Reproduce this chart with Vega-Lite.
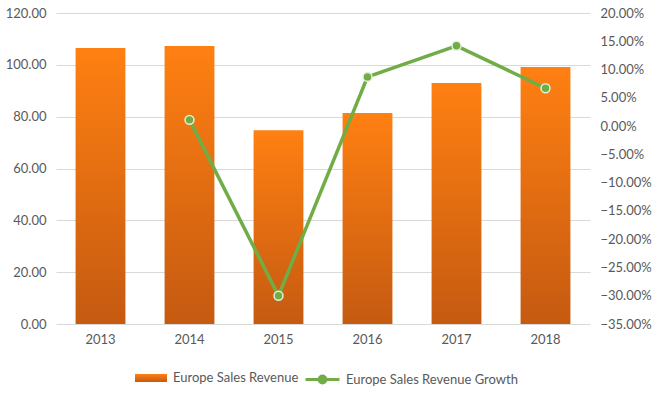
{
  "$schema": "https://vega.github.io/schema/vega-lite/v6.json",
  "width": 534,
  "height": 311,
  "autosize": {"type": "none"},
  "padding": {"left": 56, "top": 13, "right": 66, "bottom": 71},
  "background": "white",
  "config": {
    "view": {"stroke": null},
    "font": "Lato",
    "axis": {"labelColor": "#595959", "labelFontSize": 13, "domain": false, "ticks": false, "title": null, "labelFont": "Lato"},
    "legend": {"labelColor": "#595959", "labelFontSize": 13, "labelFont": "Lato", "title": null, "labelLimit": 400, "padding": 0}
  },
  "data": {
    "values": [
      {"year": "2013", "revenue": 106.5, "growth": null},
      {"year": "2014", "revenue": 107.3, "growth": 0.011},
      {"year": "2015", "revenue": 74.8, "growth": -0.300},
      {"year": "2016", "revenue": 81.4, "growth": 0.087},
      {"year": "2017", "revenue": 93.0, "growth": 0.142},
      {"year": "2018", "revenue": 99.2, "growth": 0.067}
    ]
  },
  "encoding": {
    "x": {
      "field": "year",
      "type": "ordinal",
      "scale": {"paddingInner": 0.44, "paddingOuter": 0.22},
      "axis": {"labelAngle": 0, "labelPadding": 9}
    }
  },
  "layer": [
    {
      "mark": {"type": "bar", "color": {"gradient": "linear", "x1": 0, "y1": 0, "x2": 0, "y2": 1, "stops": [{"offset": 0, "color": "#FF8012"}, {"offset": 1, "color": "#C55A11"}]}},
      "encoding": {
        "y": {
          "field": "revenue",
          "type": "quantitative",
          "scale": {"domain": [0, 120]},
          "axis": {"values": [0, 20, 40, 60, 80, 100, 120], "format": ".2f", "grid": true, "gridColor": "#D9D9D9", "labelPadding": 10}
        },
        "opacity": {
          "datum": "Europe Sales Revenue",
          "type": "ordinal",
          "scale": {"range": [1, 1]},
          "legend": {
            "orient": "none",
            "legendX": 78,
            "legendY": 348,
            "symbolType": "M-1,-0.25H1V0.25H-1Z",
            "symbolSize": 1024,
            "labelOffset": 5,
            "encode": {"symbols": {"update": {"fill": {"value": "#E8700F"}, "stroke": {"value": "transparent"}, "opacity": {"value": 1}}}}
          }
        }
      }
    },
    {
      "encoding": {
        "y": {
          "field": "growth",
          "type": "quantitative",
          "scale": {"domain": [-0.35, 0.2]},
          "axis": {"orient": "right", "values": [-0.35, -0.3, -0.25, -0.2, -0.15, -0.1, -0.05, 0, 0.05, 0.1, 0.15, 0.2], "format": ".2%", "grid": false, "labelPadding": 10}
        }
      },
      "layer": [
        {
          "mark": {"type": "line", "strokeWidth": 3.5},
          "encoding": {
            "stroke": {
              "datum": "Europe Sales Revenue Growth",
              "type": "nominal",
              "scale": {"range": ["#70AD47"]},
              "legend": {
                "orient": "none",
                "legendX": 248,
                "legendY": 348,
                "symbolType": "M-1,0H-0.25M0.25,0H1M-0.2,0A0.2,0.2 0 1,0 0.2,0A0.2,0.2 0 1,0 -0.2,0",
                "symbolSize": 1156,
                "symbolStrokeWidth": 3,
                "labelOffset": 5,
                "encode": {"symbols": {"update": {"fill": {"value": "#70AD47"}, "stroke": {"value": "#70AD47"}}}}
              }
            }
          }
        },
        {
          "mark": {"type": "point", "filled": true, "fill": "#70AD47", "stroke": "#E2F0D9", "strokeWidth": 1.5, "size": 80, "opacity": 1}
        }
      ]
    }
  ],
  "resolve": {"scale": {"y": "independent"}}
}
